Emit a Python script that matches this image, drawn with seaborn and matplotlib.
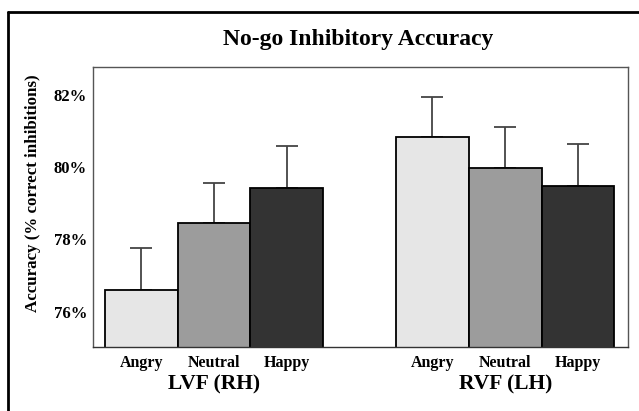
import matplotlib
matplotlib.use("Agg")
import matplotlib.pyplot as plt
from matplotlib.lines import Line2D
from matplotlib.transforms import blended_transform_factory
import pandas as pd
import seaborn as sns

# Data
groups = ["LVF (RH)", "RVF (LH)"]
emotions = ["Angry", "Neutral", "Happy"]
lvf_means = [76.61, 78.45, 79.42]
rvf_means = [80.82, 79.98, 79.48]
lvf_err = [1.15, 1.12, 1.15]
rvf_err = [1.12, 1.13, 1.15]
yticks = [76, 78, 80, 82]
ytick_labels = ["76%", "78%", "80%", "82%"]

colors = {"Angry": "#e6e6e6", "Neutral": "#9c9c9c", "Happy": "#333333"}

rows = []
for g, (means, errs) in enumerate([(lvf_means, lvf_err), (rvf_means, rvf_err)]):
    for i, emo in enumerate(emotions):
        rows.append({"group": groups[g], "emotion": emo, "pos": g * 4 + i,
                     "acc": means[i], "err": errs[i]})
df = pd.DataFrame(rows)

sns.set_theme(style="white")
plt.rcParams["font.family"] = ["Liberation Serif", "DejaVu Serif"]
plt.rcParams["font.weight"] = "bold"
plt.rcParams["text.color"] = "black"
plt.rcParams["axes.labelcolor"] = "black"
plt.rcParams["xtick.color"] = "black"
plt.rcParams["ytick.color"] = "black"

fig = plt.figure(figsize=(6.39, 4.11), dpi=100)
ax = fig.add_axes([92.5 / 639, 1 - 346.7 / 411, (628.3 - 92.5) / 639, (346.7 - 66.7) / 411])

sns.barplot(data=df, x="pos", y="acc", hue="emotion", palette=colors,
            native_scale=True, dodge=False, width=1.0, errorbar=None,
            edgecolor="black", linewidth=1.3, legend=False, ax=ax, zorder=2)

# upper error bars only
ax.errorbar(df["pos"], df["acc"], yerr=[[0] * len(df), df["err"]], fmt="none",
            ecolor="#444444", elinewidth=1.3, capsize=8, capthick=1.3, zorder=1)

ax.set_xlim(-0.67, 6.69)
ax.set_ylim(75.04, 82.77)
ax.set_yticks(yticks)
ax.set_yticklabels(ytick_labels, fontsize=12, fontweight="bold")
ax.set_xticks(df["pos"])
ax.set_xticklabels(df["emotion"], fontsize=11.5, fontweight="bold")
ax.tick_params(axis="both", length=0)
ax.tick_params(axis="y", pad=4)
ax.tick_params(axis="x", pad=6)
ax.set_xlabel("")
ax.set_ylabel("Accuracy (% correct inhibitions)", fontsize=12.2, fontweight="bold")
ax.yaxis.set_label_coords(-0.111, 0.549)
ax.yaxis.label.set_va("center")

for sp in ax.spines.values():
    sp.set_color("#555555")
    sp.set_linewidth(1.0)
ax.spines["bottom"].set_color("#333333")

trans = blended_transform_factory(ax.transData, fig.transFigure)
for g, name in enumerate(groups):
    ax.text(g * 4 + 1, 1 - 384 / 411, name, transform=trans, ha="center", va="center",
            fontsize=15.5, fontweight="bold")

fig.text(358 / 639, 1 - 39 / 411, "No-go Inhibitory Accuracy", ha="center", va="center",
         fontsize=17, fontweight="bold")

# outer frame (left and top edges)
fig.add_artist(Line2D([8 / 639, 8 / 639], [0, 1 - 12 / 411], transform=fig.transFigure,
                      color="black", linewidth=2))
fig.add_artist(Line2D([8 / 639, 1], [1 - 12 / 411, 1 - 12 / 411], transform=fig.transFigure,
                      color="black", linewidth=2))

fig.savefig("out.png", dpi=100)
